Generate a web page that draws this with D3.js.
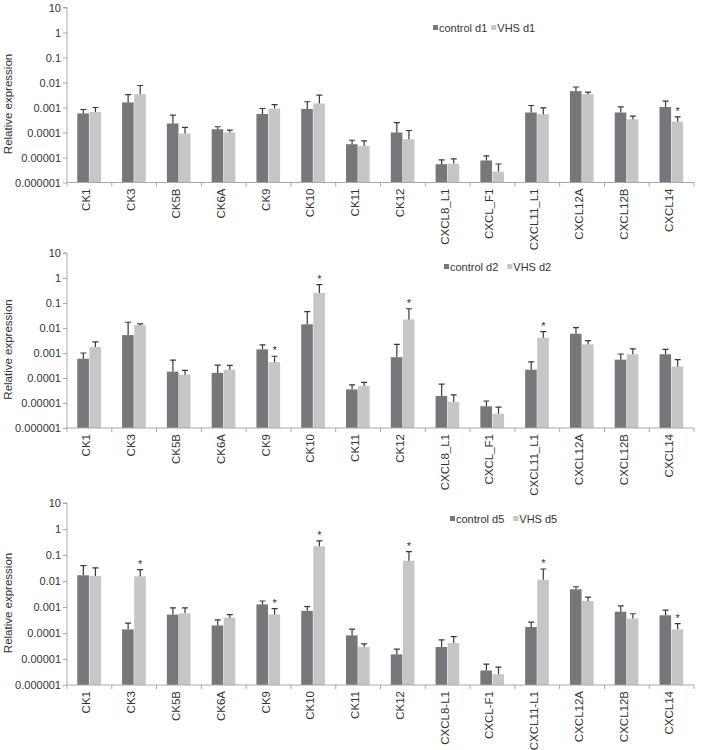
<!DOCTYPE html>
<html>
<head>
<meta charset="utf-8">
<script src="https://cdn.jsdelivr.net/npm/d3@7"></script>
<style>
  body { margin: 0; background: #fff; }
  svg { display: block; font-family: "Liberation Sans", Arial, sans-serif; }
</style>
</head>
<body>
<svg id="chart" width="701" height="750"></svg>
<script>
// ---------- data ----------
const categoriesA = ["CK1","CK3","CK5B","CK6A","CK9","CK10","CK11","CK12","CXCL8_L1","CXCL_F1","CXCL11_L1","CXCL12A","CXCL12B","CXCL14"];
const categoriesB = ["CK1","CK3","CK5B","CK6A","CK9","CK10","CK11","CK12","CXCL8-L1","CXCL-F1","CXCL11-L1","CXCL12A","CXCL12B","CXCL14"];
const yTickValues = [10, 1, 0.1, 0.01, 0.001, 0.0001, 0.00001, 0.000001];
const yTickLabels = ["10","1","0.1","0.01","0.001","0.0001","0.00001","0.000001"];

// day 1
const controlD1     = [5.8e-4, 1.6e-3, 2.3e-4, 1.35e-4, 5.5e-4, 8.8e-4, 3.4e-5, 1.0e-4, 5.4e-6, 7.6e-6, 6.3e-4, 4.5e-3, 6.3e-4, 1.05e-3];
const controlD1Upper= [8.3e-4, 3.3e-3, 5.0e-4, 1.7e-4, 9.1e-4, 1.7e-3, 4.9e-5, 2.5e-4, 8.0e-6, 1.16e-5, 1.2e-3, 6.6e-3, 1.05e-3, 1.8e-3];
const vhsD1         = [6.6e-4, 3.4e-3, 9.1e-5, 1.0e-4, 9.1e-4, 1.45e-3, 2.9e-5, 5.4e-5, 5.7e-6, 2.75e-6, 5.4e-4, 3.4e-3, 3.4e-4, 2.75e-4];
const vhsD1Upper    = [1.0e-3, 7.6e-3, 1.6e-4, 1.24e-4, 1.3e-3, 3.1e-3, 4.6e-5, 1.2e-4, 8.8e-6, 5.5e-6, 9.6e-4, 4.1e-3, 4.5e-4, 4.2e-4];
const starsD1 = ["CXCL14"];

// day 2
const controlD2     = [5.9e-4, 5.2e-3, 1.8e-4, 1.6e-4, 1.4e-3, 1.4e-2, 3.5e-5, 6.8e-4, 1.9e-5, 7.4e-6, 2.15e-4, 5.9e-3, 5.4e-4, 8.9e-4];
const controlD2Upper= [1.0e-3, 1.7e-2, 5.2e-4, 3.3e-4, 2.1e-3, 4.5e-2, 5.3e-5, 2.2e-3, 5.7e-5, 1.2e-5, 4.4e-4, 1.03e-2, 9.1e-4, 1.4e-3];
const vhsD2         = [1.74e-3, 1.3e-2, 1.35e-4, 2.15e-4, 4.3e-4, 0.25, 4.8e-5, 2.2e-2, 1.1e-5, 3.7e-6, 4.1e-3, 2.2e-3, 8.9e-4, 2.9e-4];
const vhsD2Upper    = [2.8e-3, 1.45e-2, 2.0e-4, 3.2e-4, 7.4e-4, 0.54, 6.7e-5, 5.9e-2, 2.1e-5, 6.9e-6, 7.1e-3, 3.1e-3, 1.45e-3, 5.4e-4];
const starsD2 = ["CK9","CK10","CK12","CXCL11_L1"];

// day 5
const controlD5     = [1.66e-2, 1.38e-4, 5.1e-4, 1.95e-4, 1.26e-3, 7.1e-4, 8.1e-5, 1.5e-5, 2.9e-5, 3.6e-6, 1.7e-4, 4.8e-3, 6.6e-4, 4.8e-4];
const controlD5Upper= [3.9e-2, 2.4e-4, 9.2e-4, 3.2e-4, 1.7e-3, 1.03e-3, 1.42e-4, 2.4e-5, 5.4e-5, 6.4e-6, 2.6e-4, 6.0e-3, 1.1e-3, 7.6e-4];
const vhsD5         = [1.55e-2, 1.5e-2, 5.7e-4, 3.9e-4, 5.2e-4, 0.215, 2.95e-5, 6.0e-2, 4.1e-5, 2.6e-6, 1.12e-2, 1.7e-3, 3.6e-4, 1.38e-4];
const vhsD5Upper    = [3.2e-2, 2.75e-2, 9.2e-4, 5.1e-4, 8.7e-4, 0.35, 3.8e-5, 0.135, 7.3e-5, 4.9e-6, 2.9e-2, 2.4e-3, 5.5e-4, 2.3e-4];
const starsD5 = ["CK3","CK9","CK10","CK12","CXCL11-L1","CXCL14"];

const seriesNames = [["control d1","VHS d1"],["control d2","VHS d2"],["control d5","VHS d5"]];

// ---------- layout ----------
const darkColor = "#77767b";
const lightColor = "#c5c6c8";
const axisColor = "#a9a9a9";
const textColor = "#333";

const panels = [
  { cats: categoriesA, ctrl: controlD1, ctrlUp: controlD1Upper, vhs: vhsD1, vhsUp: vhsD1Upper, stars: starsD1, names: seriesNames[0],
    top: 7.5, bottom: 182.5, legendX: 433, legendY: 28, legendGap: 4 },
  { cats: categoriesA, ctrl: controlD2, ctrlUp: controlD2Upper, vhs: vhsD2, vhsUp: vhsD2Upper, stars: starsD2, names: seriesNames[1],
    top: 253, bottom: 428, legendX: 444, legendY: 267, legendGap: 9 },
  { cats: categoriesB, ctrl: controlD5, ctrlUp: controlD5Upper, vhs: vhsD5, vhsUp: vhsD5Upper, stars: starsD5, names: seriesNames[2],
    top: 503, bottom: 685, legendX: 450, legendY: 519, legendGap: 9 }
];

const left = 67, right = 694;
const svg = d3.select("#chart");

panels.forEach(p => {
  const g = svg.append("g");
  const y = d3.scaleLog().domain([1e-6, 10]).range([p.bottom, p.top]);
  const x0 = d3.scaleBand().domain(p.cats).range([left, right]).paddingInner(0.46).paddingOuter(0.23);
  const x1 = d3.scaleBand().domain(["ctrl","vhs"]).range([0, x0.bandwidth()]).padding(0);

  const rows = p.cats.map((c, i) => ({
    cat: c,
    bars: [
      { key: "ctrl", v: p.ctrl[i], up: p.ctrlUp[i], color: darkColor },
      { key: "vhs",  v: p.vhs[i],  up: p.vhsUp[i],  color: lightColor }
    ],
    star: p.stars.includes(c)
  }));

  // y axis
  const yAxis = d3.axisLeft(y).tickValues(yTickValues)
      .tickFormat((d, i) => yTickLabels[i]).tickSize(4).tickPadding(2);
  const ya = g.append("g").attr("transform", `translate(${left},0)`).call(yAxis);
  ya.select(".domain").attr("stroke", axisColor).attr("d", `M-4,${p.top}H0V${p.bottom}`);
  ya.selectAll(".tick line").attr("stroke", axisColor);
  ya.selectAll(".tick text").attr("fill", textColor).style("font-size", "11px")
    .style("font-family", "'Liberation Sans', Arial, sans-serif");

  // bars
  const grp = g.selectAll(".grp").data(rows).enter().append("g")
    .attr("transform", d => `translate(${x0(d.cat)},0)`);
  grp.selectAll("rect").data(d => d.bars).enter().append("rect")
    .attr("x", d => x1(d.key))
    .attr("width", x1.bandwidth() - 0.5)
    .attr("y", d => y(d.v))
    .attr("height", d => p.bottom - y(d.v))
    .attr("fill", d => d.color);
  // error bars (upper only)
  grp.selectAll("path.err").data(d => d.bars).enter().append("path")
    .attr("class", "err")
    .attr("d", d => {
      const cx = x1(d.key) + x1.bandwidth() / 2;
      return `M${cx},${y(d.v)}V${y(d.up)}M${cx - 3},${y(d.up)}H${cx + 3}`;
    })
    .attr("stroke", "#3a3a3a").attr("stroke-width", 1.2).attr("fill", "none");
  // stars
  grp.filter(d => d.star).append("text")
    .attr("x", d => x1("vhs") + x1.bandwidth() / 2)
    .attr("y", d => y(d.bars[1].up) - 2)
    .attr("text-anchor", "middle")
    .attr("fill", textColor)
    .style("font-size", "11px")
    .text("*");

  // x axis
  const xa = g.append("g").attr("transform", `translate(0,${p.bottom})`);
  xa.append("path").attr("d", `M${left},0H${right}`).attr("stroke", axisColor).attr("fill", "none");
  const step = x0.step();
  const bounds = d3.range(p.cats.length + 1).map(i => left + i * step);
  xa.selectAll("line.sep").data(bounds).enter().append("line")
    .attr("x1", d => d).attr("x2", d => d).attr("y1", 0).attr("y2", 4)
    .attr("stroke", axisColor);
  xa.selectAll("text.lab").data(p.cats).enter().append("text")
    .attr("transform", d => `translate(${x0(d) + x0.bandwidth() / 2 + 1},6) rotate(-90)`)
    .attr("text-anchor", "end")
    .attr("fill", textColor)
    .style("font-size", "11.5px")
    .text(d => d);

  // y axis title
  g.append("text")
    .attr("transform", `translate(12,${(p.top + p.bottom) / 2 + 9}) rotate(-90)`)
    .attr("text-anchor", "middle")
    .attr("fill", textColor)
    .style("font-size", "11.5px")
    .text("Relative expression");

  // legend
  const lg = g.append("g").attr("transform", `translate(${p.legendX},${p.legendY})`);
  lg.append("rect").attr("x", 0).attr("y", -3).attr("width", 5).attr("height", 5).attr("fill", darkColor);
  const t1 = lg.append("text").attr("x", 6).attr("y", 4).attr("fill", textColor).style("font-size", "11px").text(p.names[0]);
  const w1 = t1.node().getComputedTextLength();
  const x2 = 6 + w1 + p.legendGap;
  lg.append("rect").attr("x", x2).attr("y", -3).attr("width", 5).attr("height", 5).attr("fill", lightColor);
  lg.append("text").attr("x", x2 + 6).attr("y", 4).attr("fill", textColor).style("font-size", "11px").text(p.names[1]);
});
</script>
</body>
</html>
